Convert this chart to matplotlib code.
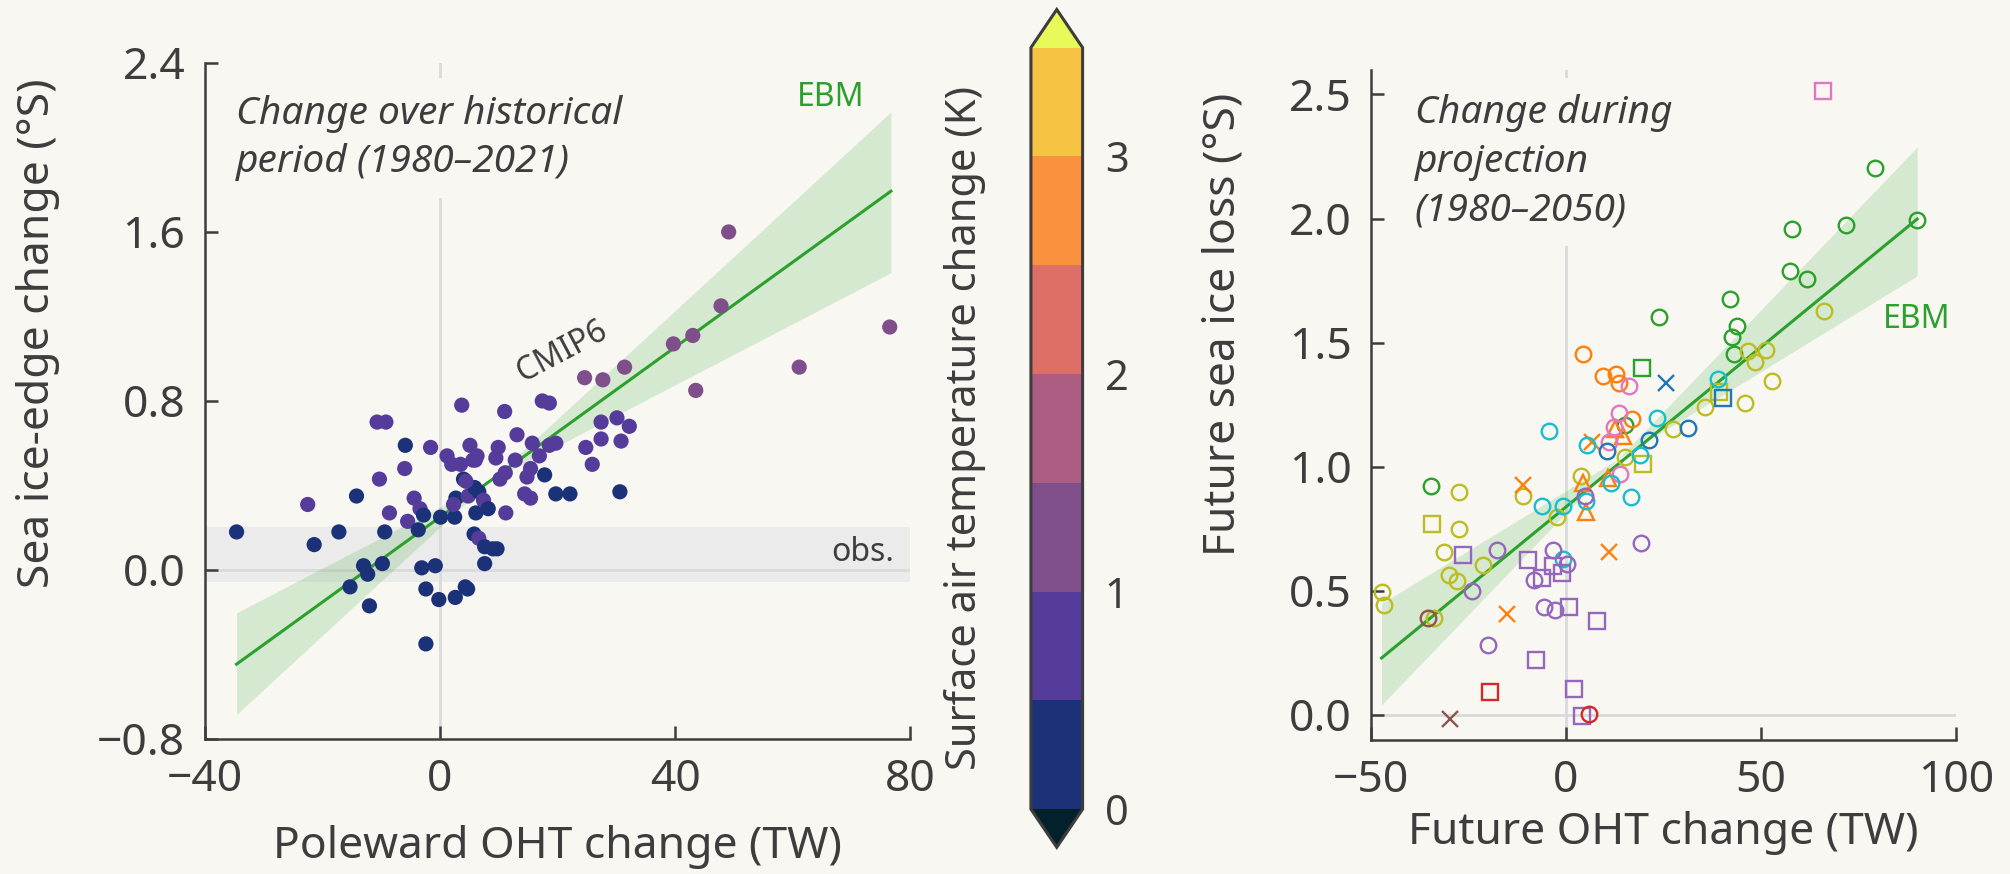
import numpy as np
import matplotlib
matplotlib.use("Agg")
import matplotlib.pyplot as plt
from matplotlib.colors import ListedColormap, BoundaryNorm
from matplotlib.cm import ScalarMappable

# ---- panel a: historical CMIP6 (1980-2021) ----
hist_oht = [-34.6, -21.4, -22.5, -17.2, -14.2, -15.3, -13.0, -12.3, -12.0, -10.7,
            -9.2, -10.3, -9.8, -9.4, -8.6, -5.9, -6.0, -5.5, -4.4, -3.7,
            -3.4, -2.8, -3.1, -0.8, -2.4, -0.2, -2.4, -1.6, 0.1, 1.2,
            2.0, 2.7, 2.5, 2.3, 2.6, 3.7, 3.5, 4.0, 4.3, 4.7,
            5.1, 5.6, 6.3, 4.8, 5.9, 6.6, 6.1, 5.8, 6.6, 7.4,
            7.6, 8.2, 7.6, 9.0, 9.7, 9.9, 9.5, 10.2, 11.1, 11.0,
            11.2, 12.8, 13.1, 14.4, 15.4, 14.8, 15.4, 15.7, 16.9, 17.4,
            18.6, 17.8, 18.6, 19.7, 19.7, 22.1, 24.6, 27.7, 24.8, 25.9,
            27.4, 27.4, 30.1, 32.2, 30.8, 30.6, 31.4, 39.7, 43.0, 43.5,
            47.8, 49.1, 61.1, 76.5, 4.4, 6.0]
hist_ice = [0.18, 0.12, 0.31, 0.18, 0.35, -0.08, 0.02, -0.02, -0.17, 0.70,
            0.70, 0.43, 0.03, 0.18, 0.27, 0.59, 0.48, 0.23, 0.34, 0.19,
            0.29, 0.26, 0.01, 0.02, -0.09, -0.14, -0.35, 0.58, 0.25, 0.54,
            0.50, 0.34, 0.25, 0.31, -0.13, 0.78, 0.50, 0.43, -0.08, -0.09,
            0.59, 0.52, 0.54, 0.35, 0.39, 0.37, 0.27, 0.17, 0.15, 0.33,
            0.11, 0.29, 0.03, 0.10, 0.10, 0.58, 0.53, 0.43, 0.46, 0.75,
            0.27, 0.52, 0.64, 0.36, 0.34, 0.44, 0.48, 0.60, 0.54, 0.80,
            0.79, 0.45, 0.59, 0.60, 0.36, 0.36, 0.91, 0.90, 0.58, 0.50,
            0.70, 0.62, 0.72, 0.68, 0.61, 0.37, 0.96, 1.07, 1.11, 0.85,
            1.25, 1.60, 0.96, 1.15, 0.42, 0.52]
hist_dT = [0.3, 0.3, 0.8, 0.3, 0.3, 0.3, 0.3, 0.3, 0.3, 0.8,
           0.8, 0.8, 0.3, 0.3, 0.8, 0.3, 0.8, 0.8, 0.8, 0.3,
           0.8, 0.3, 0.3, 0.3, 0.3, 0.3, 0.3, 0.8, 0.3, 0.8,
           0.8, 0.3, 0.3, 0.8, 0.3, 0.8, 0.8, 0.3, 0.3, 0.3,
           0.8, 0.8, 0.8, 0.8, 0.3, 0.3, 0.3, 0.3, 0.8, 0.8,
           0.3, 0.3, 0.3, 0.3, 0.3, 0.8, 0.8, 0.8, 0.8, 0.8,
           0.8, 0.8, 0.8, 0.8, 0.8, 0.8, 0.8, 0.8, 0.8, 0.8,
           0.8, 0.3, 0.8, 0.8, 0.3, 0.3, 1.2, 1.2, 0.8, 0.8,
           0.8, 0.8, 0.8, 0.8, 0.8, 0.3, 1.2, 1.2, 1.2, 1.2,
           1.2, 1.2, 1.2, 1.2, 0.8, 0.8]

# EBM fit and spread (hist)
ebm_hist_x = [-34.6, 8.5, 76.7]
ebm_hist_mid = [-0.446, 0.421, 1.793]
ebm_hist_lo = [-0.684, 0.421, 1.407]
ebm_hist_hi = [-0.203, 0.421, 2.168]
obs_range = [-0.055, 0.205]

# ---- panel b: projection (1980-2050), one entry per model ----
fut_oht = [79.4, 58.0, 71.8, 90.1, 57.6, 61.8, 42.0, 24.0, 43.9, 42.7, 43.0, -34.6, 15.1,
           19.4,
           66.2, 46.8, 48.4, 51.2, 52.8, 45.9, 35.6, 27.5, 15.1, 3.8, -10.9, -2.4, -27.4,
           -27.4, -31.2, -30.0, -27.9, -21.4, -47.1, -46.7, -33.8,
           -34.4, 19.7, 39.3,
           4.3, 9.6, 12.8, 13.6, 17.0,
           -10.9, 6.8, 11.1, -15.0,
           4.3, 5.1, 10.7, 12.6, 14.6,
           16.2, 13.6, 12.3, 11.0, 13.8,
           66.0,
           -4.3, 5.4, 23.4, 19.1, 11.6, 16.6, -6.2, -0.7, 5.2, -0.7, 39.0,
           31.3, 21.4, 10.6,
           25.6,
           40.3,
           19.2, -17.8, -3.2, 0.2, -8.2, -24.2, -5.6, -2.8, -19.9, 5.0,
           -26.3, -9.7, -6.2, -3.2, -0.9, 0.8, 8.1, -7.8, 2.1, 4.0,
           -19.5,
           5.9,
           -35.5,
           -29.7]
fut_loss = [2.204, 1.957, 1.975, 1.993, 1.789, 1.755, 1.676, 1.604, 1.566, 1.521, 1.456, 0.924, 1.168,
            1.398,
            1.627, 1.467, 1.420, 1.470, 1.346, 1.256, 1.242, 1.152, 1.041, 0.962, 0.883, 0.798, 0.897,
            0.750, 0.658, 0.562, 0.539, 0.605, 0.496, 0.442, 0.391,
            0.770, 1.012, 1.303,
            1.453, 1.364, 1.374, 1.336, 1.192,
            0.927, 1.101, 0.658, 0.408,
            0.934, 0.817, 0.954, 1.152, 1.124,
            1.326, 1.218, 1.158, 1.100, 0.970,
            2.512,
            1.145, 1.086, 1.196, 1.046, 0.936, 0.878, 0.841, 0.840, 0.862, 0.627, 1.353,
            1.155, 1.109, 1.065,
            1.338,
            1.277,
            0.694, 0.664, 0.666, 0.608, 0.542, 0.500, 0.435, 0.422, 0.282, 0.883,
            0.644, 0.623, 0.553, 0.600, 0.573, 0.435, 0.377, 0.222, 0.105, -0.004,
            0.094,
            0.003,
            0.391,
            -0.018]
fut_col = (["C2"] * 13 + ["C2"] + ["C8"] * 21 + ["C8"] * 3 + ["C1"] * 5 + ["C1"] * 4
           + ["C1"] * 5 + ["C6"] * 5 + ["C6"] + ["C9"] * 11 + ["C0"] * 3 + ["C0"] + ["C0"]
           + ["C4"] * 10 + ["C4"] * 10 + ["C3"] + ["C3"] + ["C5"] + ["C5"])
fut_mark = (["o"] * 13 + ["s"] + ["o"] * 21 + ["s"] * 3 + ["o"] * 5 + ["x"] * 4
            + ["^"] * 5 + ["o"] * 5 + ["s"] + ["o"] * 11 + ["o"] * 3 + ["x"] + ["s"]
            + ["o"] * 10 + ["s"] * 10 + ["s"] + ["o"] + ["o"] + ["x"])

ebm_fut_x = [-47.3, 13.3, 90.1]
ebm_fut_mid = [0.229, 1.009, 1.998]
ebm_fut_lo = [0.040, 1.030, 1.769]
ebm_fut_hi = [0.449, 1.030, 2.288]

# colour scale for warming
dT_bounds = [0, 0.5, 1.0, 1.5, 2.0, 2.5, 3.0, 3.5]
dT_colors = ["#1b3278", "#553c9a", "#7f4f8c", "#ae5d82", "#dd6f66", "#fa913f", "#f7c343"]
dT_under, dT_over = "#03202d", "#e8f95a"

BG = "#f8f7f2"
INK = "#3d3d3d"
GRID = "#dadada"
EBM_GREEN = "#2ca02c"
TICK_FS = 16
LABEL_FS = 16

plt.rcParams["font.family"] = ["Noto Sans", "DejaVu Sans"]

cmap = ListedColormap(dT_colors)
cmap.set_under(dT_under)
cmap.set_over(dT_over)
norm = BoundaryNorm(dT_bounds, cmap.N)

fig = plt.figure(figsize=(10.05, 4.37), dpi=200, facecolor=BG)
ax1 = fig.add_axes([0.1019, 0.1545, 0.3510, 0.7735], facecolor=BG)
cax = fig.add_axes([0.5129, 0.0306, 0.0257, 0.9585])
ax2 = fig.add_axes([0.6821, 0.1537, 0.2909, 0.7666], facecolor=BG)


def style_axes(ax):
    for s in ["top", "right"]:
        ax.spines[s].set_visible(False)
    for s in ["left", "bottom"]:
        ax.spines[s].set_color(INK)
        ax.spines[s].set_linewidth(0.9)
    ax.tick_params(direction="in", length=4.7, width=0.9, color=INK,
                   labelcolor=INK, labelsize=TICK_FS, pad=7)


# ---- panel a ----
ax1.axhspan(obs_range[0], obs_range[1], color="#ebebeb", lw=0, zorder=0.3)
ax1.axhline(0, color=GRID, lw=1.0, zorder=0.5)
ax1.axvline(0, color=GRID, lw=1.0, zorder=0.5)
ax1.fill_between(ebm_hist_x, ebm_hist_lo, ebm_hist_hi, color=EBM_GREEN, alpha=0.17,
                 lw=0, zorder=1)
ax1.plot(ebm_hist_x, ebm_hist_mid, color=EBM_GREEN, lw=1.1, zorder=2)
ax1.scatter(hist_oht, hist_ice, c=hist_dT, cmap=cmap, norm=norm, s=30, lw=0, zorder=3)

ax1.set_xlim(-40, 80)
ax1.set_ylim(-0.8, 2.4)
ax1.set_xticks([-40, 0, 40, 80])
ax1.set_xticklabels(["\u221240", "0", "40", "80"])
ax1.set_yticks([-0.8, 0, 0.8, 1.6, 2.4])
ax1.set_yticklabels(["\u22120.8", "0.0", "0.8", "1.6", "2.4"])
style_axes(ax1)
ax1.set_xlabel("Poleward OHT change (TW)", fontsize=LABEL_FS, color=INK)
ax1.set_ylabel("Sea ice-edge change (°S)", fontsize=LABEL_FS, color=INK)
ax1.xaxis.set_label_coords(0.5, -0.128)
ax1.yaxis.set_label_coords(-0.205, 0.600)

ax1.text(0.044, 0.953, "Change over historical\nperiod (1980\u20132021)", transform=ax1.transAxes,
         ha="left", va="top", fontsize=14, style="italic", color=INK, linespacing=1.36,
         bbox=dict(facecolor=BG, edgecolor="none", pad=6), zorder=2.5)
ax1.text(66.4, 2.234, "EBM", color=EBM_GREEN, fontsize=11.5, ha="center", va="center")
ax1.text(20.8, 1.032, "CMIP6", color=INK, fontsize=11.5, ha="center", va="center", rotation=28)
ax1.text(77.3, 0.082, "obs.", color=INK, fontsize=11.5, ha="right", va="center")

# ---- colour bar ----
cb = fig.colorbar(ScalarMappable(norm=norm, cmap=cmap), cax=cax, extend="both",
                  ticks=[0, 1, 2, 3])
cb.minorticks_off()
cb.outline.set_edgecolor(INK)
cb.outline.set_linewidth(1.1)
cax.tick_params(which="both", length=0, labelsize=15, labelcolor=INK, pad=8)
cax.yaxis.set_label_position("left")
cb.set_label("Surface air temperature change (K)", fontsize=15, color=INK, labelpad=16)

# ---- panel b ----
ax2.axhline(0, color=GRID, lw=1.0, zorder=0.5)
ax2.axvline(0, color=GRID, lw=1.0, zorder=0.5)
ax2.fill_between(ebm_fut_x, ebm_fut_lo, ebm_fut_hi, color=EBM_GREEN, alpha=0.17,
                 lw=0, zorder=1)
ax2.plot(ebm_fut_x, ebm_fut_mid, color=EBM_GREEN, lw=1.1, zorder=2)
fut_oht_a = np.array(fut_oht)
fut_loss_a = np.array(fut_loss)
fut_col_a = np.array(fut_col)
fut_mark_a = np.array(fut_mark)
for col in dict.fromkeys(fut_col):
    for mk in dict.fromkeys(fut_mark):
        sel = (fut_col_a == col) & (fut_mark_a == mk)
        if sel.any():
            ax2.plot(fut_oht_a[sel], fut_loss_a[sel], ls="none", marker=mk, ms=5.6,
                     mfc="none", mec=col, mew=0.85, zorder=3)

ax2.set_xlim(-50, 100)
ax2.set_ylim(-0.1, 2.6)
ax2.set_xticks([-50, 0, 50, 100])
ax2.set_xticklabels(["\u221250", "0", "50", "100"])
ax2.set_yticks([0, 0.5, 1.0, 1.5, 2.0, 2.5])
ax2.set_yticklabels(["0.0", "0.5", "1.0", "1.5", "2.0", "2.5"])
style_axes(ax2)
ax2.set_xlabel("Future OHT change (TW)", fontsize=LABEL_FS, color=INK)
ax2.set_ylabel("Future sea ice loss (°S)", fontsize=LABEL_FS, color=INK)
ax2.xaxis.set_label_coords(0.5, -0.106)
ax2.yaxis.set_label_coords(-0.214, 0.620)

ax2.text(0.075, 0.963, "Change during\nprojection\n(1980\u20132050)", transform=ax2.transAxes,
         ha="left", va="top", fontsize=14, style="italic", color=INK, linespacing=1.36,
         bbox=dict(facecolor=BG, edgecolor="none", pad=6), zorder=2.5)
ax2.text(90.0, 1.592, "EBM", color=EBM_GREEN, fontsize=11.5, ha="center", va="center")

fig.savefig("out.png", dpi=200, facecolor=BG)
